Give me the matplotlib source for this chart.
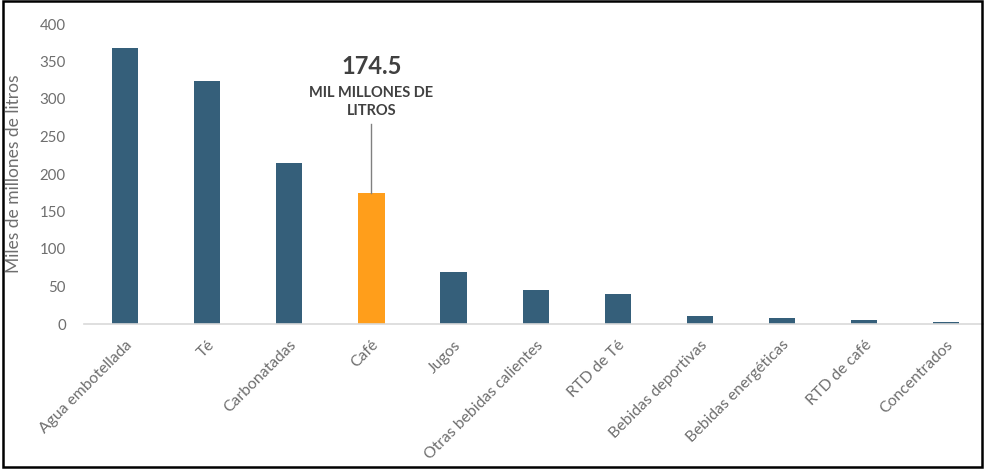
import matplotlib
matplotlib.use("Agg")
import matplotlib.pyplot as plt
from matplotlib.patches import Rectangle

categorias = ["Agua embotellada", "Té", "Carbonatadas", "Café", "Jugos",
              "Otras bebidas calientes", "RTD de Té", "Bebidas deportivas",
              "Bebidas energéticas", "RTD de café", "Concentrados"]
valores = [368, 324, 215, 174.5, 70, 45, 40, 11, 8, 5, 3]
destacado = "Café"
y_ticks = [0, 50, 100, 150, 200, 250, 300, 350, 400]

plt.rcParams["font.family"] = ["Lato", "DejaVu Sans"]

W, H = 984, 471
fig = plt.figure(figsize=(W / 100, H / 100), dpi=100)
ax = fig.add_axes([84 / W, 147 / H, 900 / W, 300 / H])

x = list(range(len(categorias)))
colores = ["#FF9E1B" if c == destacado else "#355F7A" for c in categorias]
ax.bar(x, valores, width=0.32, color=colores, zorder=2)

ax.set_xlim(-0.5, 10.46)
ax.set_ylim(0, 400)
ax.set_yticks(y_ticks)
ax.set_yticklabels([str(t) for t in y_ticks])
ax.tick_params(axis="y", length=0, pad=13, labelsize=10.8, labelcolor="#6e6e6e")
ax.tick_params(axis="x", length=0, pad=10, labelsize=11.3, labelcolor="#6e6e6e")
ax.set_xticks(x)
ax.set_xticklabels(categorias, rotation=45, ha="right", va="top",
                   rotation_mode="anchor")

for s in ["top", "right", "left"]:
    ax.spines[s].set_visible(False)
ax.spines["bottom"].set_color("#d9d9d9")
ax.spines["bottom"].set_linewidth(1.2)

ax.set_ylabel("Miles de millones de litros", fontsize=12.5, color="#6e6e6e")
ax.yaxis.set_label_coords(-0.069, 0.5)

# callout for the highlighted bar
i = categorias.index(destacado)
v = valores[i]
ax.plot([i, i], [v, 267], color="#808080", lw=1.0, zorder=3)
ax.text(i, 343, f"{v}", ha="center", va="center", fontsize=17,
        fontweight="bold", color="#404040")
ax.text(i, 296, "MIL MILLONES DE\nLITROS", ha="center", va="center",
        fontsize=10.5, fontweight="bold", color="#404040", linespacing=1.45)

fig.patches.append(Rectangle((3 / W, 4 / H), 979 / W, 466 / H,
                             transform=fig.transFigure, fill=False,
                             edgecolor="black", lw=1.8))

fig.savefig("out.png", dpi=100)
